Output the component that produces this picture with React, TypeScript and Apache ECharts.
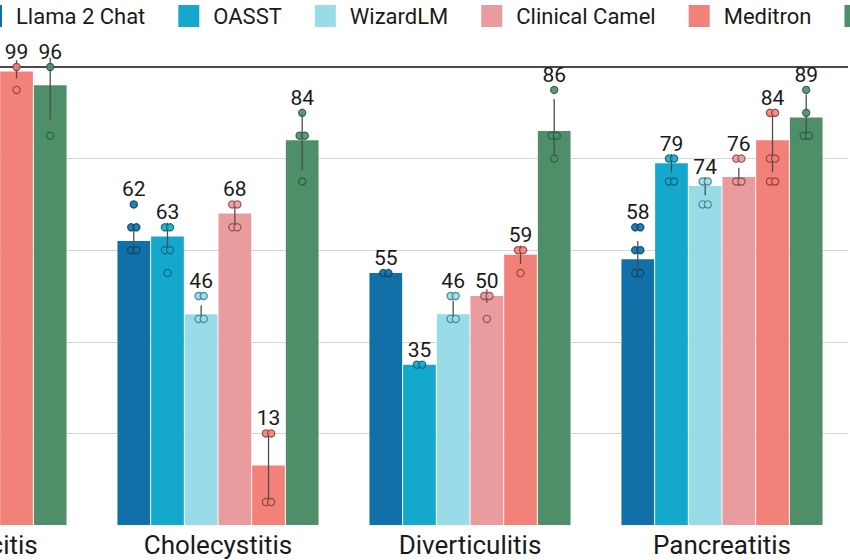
import React, { useEffect, useRef } from "react";
import * as echarts from "echarts";

const categories = ["Appendicitis", "Cholecystitis", "Diverticulitis", "Pancreatitis"];
const models = ["Llama 2 Chat", "OASST", "WizardLM", "Clinical Camel", "Meditron", "Doctors"];

// mean accuracy (%) per model, per category
const llamaValues = [null, 62, 55, 58];
const oasstValues = [null, 63, 35, 79];
const wizardValues = [null, 46, 46, 74];
const camelValues = [null, 68, 50, 76];
const meditronValues = [99, 13, 59, 84];
const doctorsValues = [96, 84, 86, 89];
const values = [llamaValues, oasstValues, wizardValues, camelValues, meditronValues, doctorsValues];

// error bar [low, high] per category
const llamaErr = [null, [59, 65], [55, 55], [54, 62]];
const oasstErr = [null, [60, 66], [35, 35], [77, 81]];
const wizardErr = [null, [44.5, 48], [45, 49], [72, 76]];
const camelErr = [null, [65, 70], [48.5, 51.5], [74, 78]];
const meditronErr = [[97.5, 101.5], [5, 20], [57, 61], [77, 90.5]];
const doctorsErr = [[88.5, 102], [77.5, 90], [80, 93], [84, 94]];
const errors = [llamaErr, oasstErr, wizardErr, camelErr, meditronErr, doctorsErr];

// individual run points per category
const llamaDots = [[], [70, 65, 65, 60, 60], [55, 55], [65, 65, 60, 60, 55, 55]];
const oasstDots = [[], [65, 65, 60, 60, 55], [35, 35], [80, 80, 75, 75]];
const wizardDots = [[], [50, 50, 45, 45], [50, 50, 45, 45], [75, 75, 70, 70]];
const camelDots = [[], [70, 70, 65, 65], [50, 50, 45], [80, 80, 75, 75]];
const meditronDots = [[100, 95], [20, 20, 5, 5], [60, 60, 55], [90, 90, 80, 80, 75, 75]];
const doctorsDots = [[100, 85], [90, 85, 85, 75], [95, 85, 85, 80], [95, 90, 85, 85]];
const dots = [llamaDots, oasstDots, wizardDots, camelDots, meditronDots, doctorsDots];

const colors = ["#1170a7", "#14a9cc", "#9adbe8", "#e99b9e", "#f2817a", "#4e8e69"];
const dotStroke = ["#0b4466", "#0b5f78", "#3f7f8e", "#8c4a4d", "#8e3d38", "#2c5a40"];

const BAR_W = 32.7;
const BAR_GAP = 0.03;
const SHIFT = 168; // how far the chart canvas extends left of the visible frame
const FONT = "Roboto, 'Noto Sans', sans-serif";

export default function App() {
  const ref = useRef<HTMLDivElement>(null);
  useEffect(() => {
    if (!ref.current) return;
    const chart = echarts.init(ref.current, null, { renderer: "svg" });
    const step = BAR_W * (1 + BAR_GAP);

    const barSeries = models.map((name, i) => ({
      name,
      type: "bar",
      data: values[i],
      barWidth: BAR_W,
      barGap: BAR_GAP * 100 + "%",
      itemStyle: { color: colors[i] },
      z: 2,
      ...(i === 0
        ? {
            markLine: {
              silent: true,
              symbol: "none",
              label: { show: false },
              lineStyle: { color: "#4a4a4a", width: 2, type: "solid" },
              data: [{ yAxis: 100 }],
              z: 1,
            },
          }
        : {}),
    }));

    const customSeries = models.map((name, i) => ({
      type: "custom",
      name: name + " points",
      z: 5,
      clip: false,
      silent: true,
      data: categories
        .map((_, c) => (values[i][c] == null ? null : [c, errors[i][c][0], errors[i][c][1], values[i][c]]))
        .filter((d) => d !== null),
      renderItem: (params: any, api: any) => {
        const c = api.value(0);
        const lo = api.value(1);
        const hi = api.value(2);
        const v = api.value(3);
        const offset = (i - 2.5) * step;
        const pLo = api.coord([c, lo]);
        const pHi = api.coord([c, hi]);
        const x = pLo[0] + offset;
        const children: any[] = [];
        children.push({
          type: "line",
          shape: { x1: x, y1: pLo[1], x2: x, y2: pHi[1] },
          style: { stroke: "#4d4d4d", lineWidth: 1.3 },
        });
        const list: number[] = dots[i][c] || [];
        const counts: Record<string, number> = {};
        list.forEach((d) => (counts[d] = (counts[d] || 0) + 1));
        let topVal = list.length ? -Infinity : hi;
        Object.keys(counts).forEach((k) => {
          const val = Number(k);
          if (val > topVal) topVal = val;
          const py = api.coord([c, val])[1];
          const n = counts[k];
          const offs = n >= 2 ? [-2.6, 2.6] : [0];
          offs.forEach((o) => {
            children.push({
              type: "circle",
              shape: { cx: x + o, cy: py, r: 3.6 },
              style: { fill: colors[i], stroke: dotStroke[i], lineWidth: 1.2, opacity: 0.9 },
            });
          });
        });
        const ty = api.coord([c, topVal])[1] - 15;
        children.push({
          type: "text",
          style: {
            text: String(v),
            x,
            y: ty,
            align: "center",
            verticalAlign: "middle",
            fill: "#1a1a1a",
            fontSize: 21,
            fontFamily: FONT,
          },
        });
        return { type: "group", children };
      },
    }));

    chart.setOption({
      animation: false,
      legend: {
        data: models,
        top: 0,
        left: SHIFT - 24,
        width: 1200,
        itemWidth: 21,
        itemHeight: 22,
        itemGap: 33,
        icon: "rect",
        textStyle: { fontSize: 22, color: "#1a1a1a", fontFamily: FONT, padding: [0, 0, 0, 9] },
      },
      grid: { left: SHIFT - 160, width: 1008, top: 67, bottom: 35, containLabel: false },
      xAxis: {
        type: "category",
        data: categories,
        axisLine: { show: false },
        axisTick: { show: false },
        axisLabel: { fontSize: 26, color: "#1a1a1a", fontFamily: FONT, margin: 7 },
      },
      yAxis: {
        type: "value",
        min: 0,
        max: 100,
        interval: 20,
        axisLabel: { show: false },
        axisLine: { show: false },
        axisTick: { show: false },
        splitLine: {
          lineStyle: {
            color: ["rgba(0,0,0,0)", "#d6d6d6", "#d6d6d6", "#d6d6d6", "#d6d6d6", "rgba(0,0,0,0)"],
            width: 1,
          },
        },
      },
      series: [...barSeries, ...customSeries],
    });
    return () => chart.dispose();
  }, []);
  return (
    <div style={{ position: "absolute", left: 0, top: 0, width: 850, height: 560, overflow: "hidden" }}>
      <div ref={ref} style={{ position: "absolute", left: -SHIFT, top: 0, width: 1300, height: 560 }} />
    </div>
  );
}
